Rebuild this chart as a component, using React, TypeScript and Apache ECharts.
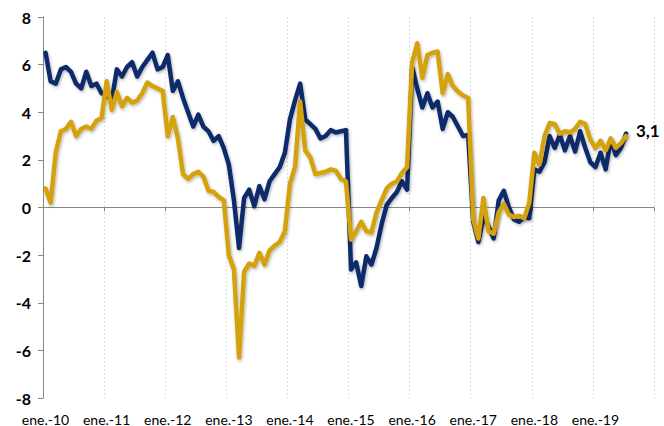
import React, { useEffect, useRef } from "react";
import * as echarts from "echarts";

const MONTHS = ["ene.", "feb.", "mar.", "abr.", "may.", "jun.", "jul.", "ago.", "sep.", "oct.", "nov.", "dic."];
const YEARS = ["10", "11", "12", "13", "14", "15", "16", "17", "18", "19"];
const categories: string[] = [];
YEARS.forEach((y) => MONTHS.forEach((m) => categories.push(`${m}-${y}`)));

const navySeries = [
  6.5, 5.3, 5.2, 5.8, 5.9, 5.7, 5.2, 5.0, 5.7, 5.1, 5.2, 4.8,
  4.7, 4.5, 5.8, 5.5, 5.9, 6.1, 5.5, 5.9, 6.2, 6.5, 5.8, 5.9,
  6.4, 4.9, 5.3, 4.6, 4.0, 3.4, 3.9, 3.4, 3.2, 2.8, 3.0, 2.5,
  1.8, 0.3, -1.7, 0.4, 0.75, 0.05, 0.9, 0.35, 1.1, 1.4, 1.7, 2.3,
  3.7, 4.5, 5.2, 3.7, 3.5, 3.3, 2.9, 3.0, 3.25, 3.15, 3.2, 3.25,
  -2.6, -2.3, -3.3, -2.05, -2.4, -1.7, -0.7, 0.1, 0.4, 0.65, 1.1, 0.75,
  5.9, 5.0, 4.2, 4.8, 4.2, 4.45, 3.3, 4.0, 3.8, 3.4, 3.0, 3.05,
  -0.6, -1.45, -0.4, -0.8, -1.3, 0.3, 0.7, 0.0, -0.5, -0.6, -0.4, -0.45,
  1.6, 1.5, 1.9, 3.0, 2.5, 3.05, 2.4, 3.0, 2.35, 3.2, 2.5, 1.9,
  1.7, 2.3, 1.6, 2.85, 2.2, 2.5, 3.1,
];

const goldSeries = [
  0.8, 0.2, 2.3, 3.2, 3.3, 3.6, 3.0, 3.3, 3.4, 3.3, 3.65, 3.75,
  5.3, 4.1, 4.85, 4.25, 4.6, 4.4, 4.5, 4.8, 5.25, 5.1, 5.0, 4.9,
  3.0, 3.8, 2.9, 1.4, 1.2, 1.4, 1.5, 1.3, 0.7, 0.65, 0.45, 0.3,
  -2.0, -2.6, -6.3, -2.7, -2.35, -2.45, -1.9, -2.4, -1.8, -1.6, -1.45, -1.0,
  1.0, 1.7, 4.45, 2.4, 2.1, 1.4, 1.45, 1.5, 1.6, 1.55, 1.2, 1.1,
  -1.35, -1.0, -0.6, -1.0, -1.05, -0.2, 0.3, 0.8, 1.0, 1.1, 1.45, 1.7,
  6.1, 6.9, 5.45, 6.4, 6.5, 6.55, 4.8, 5.6, 5.1, 4.87, 4.7, 4.6,
  -0.5, -1.3, 0.4, -1.0, -1.1, -0.2, 0.15, -0.3, -0.4, -0.35, -0.45, 0.2,
  2.3, 1.8, 3.0, 3.55, 3.5, 3.1, 3.2, 3.15, 3.3, 3.6, 3.5, 2.85,
  2.5, 2.8, 2.4, 2.9, 2.5, 2.7, 3.0,
];

const yTicks = { min: -8, max: 8, interval: 2 };

const NAVY = "#0e2b6a";
const GOLD = "#d4a20c";
const FONT = "Lato, 'Open Sans', sans-serif";

export default function App() {
  const ref = useRef<HTMLDivElement>(null);

  useEffect(() => {
    if (!ref.current) return;
    const chart = echarts.init(ref.current, undefined, { renderer: "svg" });
    const lastValue = navySeries[navySeries.length - 1];
    const lineShadow = {
      shadowBlur: 3,
      shadowColor: "rgba(0,0,0,0.3)",
      shadowOffsetX: 1,
      shadowOffsetY: 1.5,
    };
    chart.setOption({
      animation: false,
      grid: { left: 43, right: 10, top: 17, bottom: 28, containLabel: false },
      xAxis: [
        {
          type: "category",
          data: categories,
          boundaryGap: true,
          position: "bottom",
          axisLine: { show: false, onZero: false },
          axisTick: { show: false },
          axisLabel: {
            interval: 11,
            fontFamily: FONT,
            fontSize: 14,
            color: "#000",
            margin: 14,
          },
          splitLine: {
            show: true,
            interval: 11,
            lineStyle: { color: "#dcdcdc", type: [2, 2], width: 1 },
          },
        },
        {
          type: "category",
          data: categories,
          boundaryGap: true,
          position: "bottom",
          axisLine: { show: true, onZero: true, lineStyle: { color: "#868686", width: 1 } },
          axisTick: { show: true, interval: 11, length: 4, lineStyle: { color: "#868686" } },
          axisLabel: { show: false },
          splitLine: { show: false },
        },
      ],
      yAxis: {
        type: "value",
        min: yTicks.min,
        max: yTicks.max,
        interval: yTicks.interval,
        axisLine: { show: true, lineStyle: { color: "#868686", width: 1 } },
        axisTick: { show: true, length: 5, lineStyle: { color: "#868686" } },
        axisLabel: {
          fontFamily: FONT,
          fontWeight: "bold",
          fontSize: 16,
          color: "#000",
          margin: 12,
        },
        splitLine: { show: false },
      },
      series: [
        {
          type: "line",
          xAxisIndex: 0,
          data: navySeries,
          symbol: "none",
          lineStyle: { color: NAVY, width: 4.5, cap: "round", join: "round", ...lineShadow },
          itemStyle: { color: NAVY },
          endLabel: {
            show: true,
            distance: 10,
            offset: [0, -3],
            formatter: () => String(lastValue).replace(".", ","),
            fontFamily: FONT,
            fontWeight: "bold",
            fontSize: 17,
            color: "#000",
          },
          z: 2,
        },
        {
          type: "line",
          xAxisIndex: 0,
          data: goldSeries,
          symbol: "none",
          lineStyle: { color: GOLD, width: 4.5, cap: "round", join: "round", ...lineShadow },
          itemStyle: { color: GOLD },
          z: 3,
        },
      ],
    });
    return () => chart.dispose();
  }, []);

  return (
    <div
      ref={ref}
      style={{ position: "fixed", left: 0, top: 0, width: 664, height: 426, background: "#fff" }}
    />
  );
}
